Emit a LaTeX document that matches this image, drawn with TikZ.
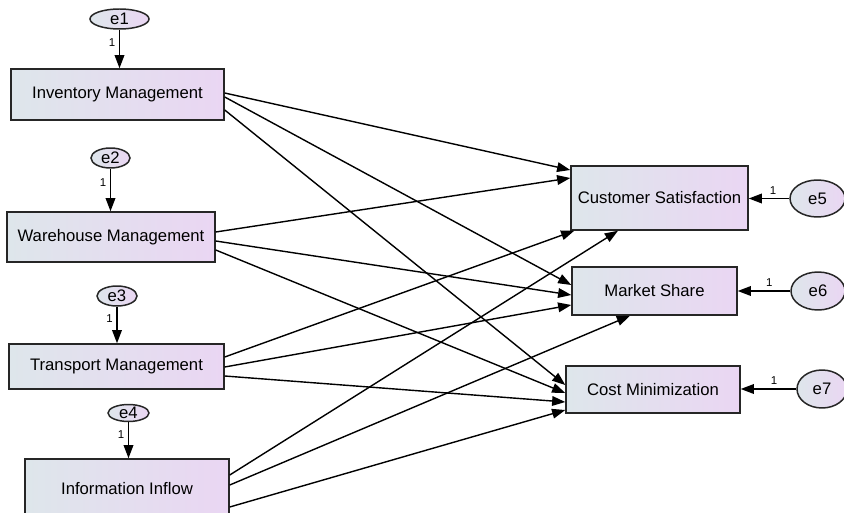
\documentclass[tikz,border=0pt]{standalone}
\usepackage{fontspec}
\setmainfont{Liberation Sans}
\usepackage{tikz}
\usetikzlibrary{
    arrows.meta,
    shapes.geometric,
    calc,
    positioning
}
\definecolor{boxleft}{RGB}{222,230,235}
\definecolor{boxright}{RGB}{234,214,243}
\tikzset{
    varbox/.style={draw=black!85, line width=0.85pt, left color=boxleft, right color=boxright,
        inner sep=0pt, font=\fontsize{9.5}{11}\selectfont},
    errvar/.style={ellipse, draw=black!85, line width=0.85pt, left color=boxleft, right color=boxright,
        inner sep=0pt, font=\fontsize{9.5}{11}\selectfont},
    regpath/.style={line width=0.8pt, -{Triangle[length=7.5pt, width=5.5pt]}},
    onelabel/.style={font=\fontsize{6.5}{7}\selectfont, inner sep=1pt}
}

\begin{document}
\begin{tikzpicture}[x=0.02cm, y=-0.02cm]
                        \useasboundingbox (0, 0) rectangle (844, 513);

                        \node[varbox, minimum width=4.26cm, minimum height=1.02cm] (inv) at (117.5, 94.5) {Inventory Management};
                        \node[varbox, minimum width=4.16cm, minimum height=1.0cm] (ware) at (111, 237) {Warehouse Management};
                        \node[varbox, minimum width=4.3cm, minimum height=0.9cm] (trans) at (116.5, 366.5) {Transport Management};
                        \node[varbox, minimum width=4.08cm, minimum height=1.2cm] (info) at (127, 489) {Information Inflow};

                        \node[varbox, minimum width=3.54cm, minimum height=1.28cm] (cs) at (659.5, 198) {Customer Satisfaction};
                        \node[varbox, minimum width=3.3cm, minimum height=0.96cm] (ms) at (654.5, 291) {Market Share};
                        \node[varbox, minimum width=3.48cm, minimum height=0.94cm] (cm) at (653, 389.5) {Cost Minimization};

                        \foreach \n/\x/\y/\w/\h in {e1/119.5/19/1.18/0.4, e2/110.5/158/0.78/0.4, e3/117/296/0.8/0.4,
                            e4/128.5/413/0.82/0.34, e5/817.5/198.5/1.1/0.74, e6/818/291/1.08/0.76, e7/822/389/1.0/0.76} {
                            \node[errvar, minimum width=\w cm, minimum height=\h cm] (\n) at (\x, \y) {\n};
                        }

                        \draw[regpath] (e1.south) -- (e1.south |- inv.north) node[onelabel, pos=0.33, left=1pt] {1};
                        \draw[regpath] (e2.south) -- (e2.south |- ware.north) node[onelabel, pos=0.33, left=1pt] {1};
                        \draw[regpath] (e3.south) -- (e3.south |- trans.north) node[onelabel, pos=0.33, left=1pt] {1};
                        \draw[regpath] (e4.south) -- (e4.south |- info.north) node[onelabel, pos=0.33, left=1pt] {1};
                        \draw[regpath] (e5.west) -- (e5.west -| cs.east) node[onelabel, pos=0.4, above=1pt] {1};
                        \draw[regpath] (e6.west) -- (e6.west -| ms.east) node[onelabel, pos=0.4, above=1pt] {1};
                        \draw[regpath] (e7.west) -- (e7.west -| cm.east) node[onelabel, pos=0.4, above=1pt] {1};

                        \draw[regpath] ($(inv.east) + (0, -1.5)$) -- ($(cs.west) + (0, -28)$);
                        \draw[regpath] ($(inv.east) + (0, 2.5)$) -- ($(ms.west) + (0, -6)$);
                        \draw[regpath] ($(inv.east) + (0, 15.5)$) -- ($(cm.west) + (0, -4.5)$);

                        \draw[regpath] ($(ware.east) + (0, -5)$) -- ($(cs.west) + (0, -20)$);
                        \draw[regpath] ($(ware.east) + (0, 4)$) -- ($(ms.west) + (0, 4)$);
                        \draw[regpath] ($(ware.east) + (0, 13)$) -- ($(cm.west) + (0, 3.5)$);

                        \draw[regpath] ($(trans.east) + (0, -9.5)$) -- ($(cs.south west) + (4, 0)$);
                        \draw[regpath] ($(trans.east) + (0, 0.5)$) -- ($(ms.west) + (0, 14)$);
                        \draw[regpath] ($(trans.east) + (0, 9.5)$) -- ($(cm.west) + (0, 12.5)$);

                        \draw[regpath] ($(info.east) + (0, -14)$) -- ($(cs.south) + (-41.5, 0)$);
                        \draw[regpath] ($(info.east) + (0, -4)$) -- ($(ms.south) + (-24.5, 0)$);
                        \draw[regpath] ($(info.east) + (0, 18)$) -- ($(cm.west) + (0, 20.5)$);
                    \end{tikzpicture}
\end{document}
